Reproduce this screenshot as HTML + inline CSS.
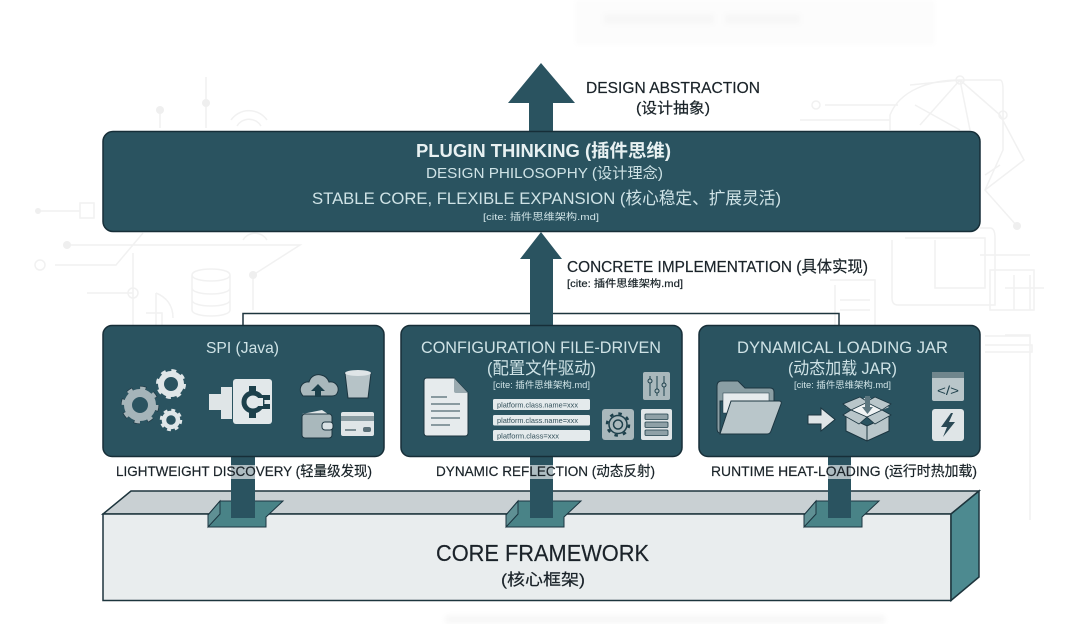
<!DOCTYPE html>
<html><head><meta charset="utf-8"><style>
html,body{margin:0;padding:0;background:#fff;width:1080px;height:624px;overflow:hidden}
svg{display:block}
text{font-family:"Liberation Sans","Noto Sans CJK SC",sans-serif;text-anchor:start}
.w{fill:#e8f1f2}.l{fill:#cfe3e6}.d{fill:#1a2429;stroke:#1a2429;stroke-width:.2}
.ic{fill:#d9e1e4;stroke:#1b3540;stroke-width:1}
.g{fill:#a9b8bc;stroke:#1b3540;stroke-width:1}
</style></head><body>
<svg width="1080" height="624" viewBox="0 0 1080 624" xmlns="http://www.w3.org/2000/svg">
<defs><filter id="b"><feGaussianBlur stdDeviation="2.5"/></filter><filter id="s"><feGaussianBlur stdDeviation="0.35"/></filter></defs>
<rect width="1080" height="624" fill="#fff"/>
<g filter="url(#b)">
<rect x="575" y="0" width="360" height="45" fill="#fcfcfc"/>
<rect x="604" y="14" width="110" height="10" fill="#f7f7f7"/><rect x="725" y="14" width="75" height="10" fill="#f7f7f7"/>
<rect x="445" y="615" width="440" height="9" fill="#f8f8f8"/>
</g>
<g fill="none" stroke="#f1f1f1" stroke-width="1.500">
<path d="M206 77V128M160 108V128M38 211H80M55 265H116L143 233M67 245H300L253 275V310M133 253V325M87 293H133"/>
<path d="M231 120a22 22 0 0 1 36 0M237 126a14 14 0 0 1 24 0M243 240a14 14 0 0 1 24 0"/>
<rect x="80" y="203" width="14" height="15"/><circle cx="40" cy="265" r="5"/><circle cx="133" cy="293" r="5"/>
<path d="M192 275c0-8 38-8 38 0v35c0 8-38 8-38 0zM192 275c0 8 38 8 38 0M192 288c0 8 38 8 38 0M192 300c0 8 38 8 38 0"/>
<path d="M156 293V325M146 313h16v12M156 293c10 4 17 12 17 25"/>
<path d="M825 105H898M800 120H890M890 130V115C900 90 930 80 960 80L1000 115M960 80L920 125M960 80L970 130M1000 115L1024 160L985 190M960 80H1000Q1003 80 1003 90V150L985 190L1017 226M910 85L960 80M915 105L960 130M985 175L1000 165"/>
<circle cx="816" cy="105" r="4"/><circle cx="960" cy="80" r="4"/><circle cx="1003" cy="115" r="4"/>
<path d="M980 228H990Q995 228 995 238V305H898Q892 305 892 298V240M905 238H985V288H935V240M980 255H1030M990 270H1034V310H990zM1014 275V310M1030 275V310M1005 288H1044"/>
<path d="M830 280H875V325M835 285V325M840 300H870M840 310H870"/>
<path d="M1005 335H1030V520M985 336H1030M985 345H1032V352H985"/>
</g>
<g fill="#efefef"><circle cx="38" cy="211" r="3"/><circle cx="67" cy="245" r="4"/><circle cx="160" cy="110" r="4"/><circle cx="206" cy="103" r="4"/><circle cx="253" cy="275" r="4"/><circle cx="1017" cy="226" r="4"/></g>

<g filter="url(#s)">
<!-- beam -->
<polygon points="131,491 979,491 951,514 103,514" fill="#c9d0d3" stroke="#1f343c" stroke-width="1.500"/>
<polygon points="103,514 951,514 951,600.500 103,600.500" fill="#e9edee" stroke="#1f343c" stroke-width="1.500"/>
<polygon points="951,514 979,491 979,577 951,600.500" fill="#4e8a90" stroke="#1f343c" stroke-width="1.500"/>
<!-- sockets -->
<g stroke="#1b3540" stroke-width="1">
<polygon points="220,501 283,501 266,517 266,527 208,527 208,515" fill="#4a8387"/><polygon points="208,515 220,501 220,514 208,527" fill="#5f9094"/>
<polygon points="518,501 581,501 564,517 564,527 506,527 506,515" fill="#4a8387"/><polygon points="506,515 518,501 518,514 506,527" fill="#5f9094"/>
<polygon points="816,501 879,501 862,517 862,527 804,527 804,515" fill="#4a8387"/><polygon points="804,515 816,501 816,514 804,527" fill="#5f9094"/>
</g>
<!-- connectors -->
<g fill="#2a5260">
<rect x="231" y="456" width="24" height="62"/><rect x="530" y="456" width="23" height="62"/><rect x="828" y="456" width="23" height="62"/>
</g>
<g fill="#fff" opacity=".62"><rect x="231" y="465" width="24" height="14"/><rect x="530" y="465" width="23" height="14"/><rect x="828" y="465" width="23" height="14"/></g>

<!-- bracket -->
<path d="M243 325V313.500H839V325" fill="none" stroke="#1f343c" stroke-width="1.500"/>
<!-- arrows -->
<polygon points="541,63 575,103 553,103 553,132 529,132 529,103 508,103" fill="#2a5260"/>
<polygon points="541,232 562,259 553,259 553,326 530,326 530,259 520,259" fill="#2a5260"/>

<!-- boxes -->
<rect x="103" y="131.500" width="877" height="100" rx="10" fill="#2b5361" stroke="#182f38" stroke-width="1.500"/>
<rect x="103" y="325.500" width="281" height="131" rx="9" fill="#2b5361" stroke="#182f38" stroke-width="1.500"/>
<rect x="401" y="325.500" width="281" height="131" rx="9" fill="#2b5361" stroke="#182f38" stroke-width="1.500"/>
<rect x="699" y="325.500" width="281" height="131" rx="9" fill="#2b5361" stroke="#182f38" stroke-width="1.500"/>

<!-- top text -->
<text x="586" y="93" font-size="16" class="d" textLength="174" lengthAdjust="spacingAndGlyphs">DESIGN ABSTRACTION</text>
<text x="636" y="113" font-size="15" class="d" textLength="74" lengthAdjust="spacingAndGlyphs">(设计抽象)</text>
<text x="416" y="157" font-size="18" font-weight="bold" class="w" textLength="255" lengthAdjust="spacingAndGlyphs">PLUGIN THINKING  (插件思维)</text>
<text x="426" y="178" font-size="15" class="l" textLength="237" lengthAdjust="spacingAndGlyphs">DESIGN PHILOSOPHY (设计理念)</text>
<text x="312" y="204" font-size="17" class="l" textLength="469" lengthAdjust="spacingAndGlyphs">STABLE CORE, FLEXIBLE EXPANSION  (核心稳定、扩展灵活)</text>
<text x="483" y="220" font-size="9.500" class="l" textLength="116" lengthAdjust="spacingAndGlyphs">[cite: 插件思维架构.md]</text>
<text x="567" y="272" font-size="16" class="d" textLength="301" lengthAdjust="spacingAndGlyphs">CONCRETE IMPLEMENTATION  (具体实现)</text>
<text x="567" y="287" font-size="10" class="d" textLength="116" lengthAdjust="spacingAndGlyphs">[cite: 插件思维架构.md]</text>

<!-- box titles -->
<text x="206" y="353" font-size="16" class="l" textLength="73" lengthAdjust="spacingAndGlyphs">SPI (Java)</text>
<text x="421" y="353" font-size="17" class="l" textLength="240" lengthAdjust="spacingAndGlyphs">CONFIGURATION FILE-DRIVEN</text>
<text x="487" y="374" font-size="17" class="l" textLength="109" lengthAdjust="spacingAndGlyphs">(配置文件驱动)</text>
<text x="493" y="388" font-size="9" class="l" textLength="97" lengthAdjust="spacingAndGlyphs">[cite: 插件思维架构.md]</text>
<text x="737" y="353" font-size="17" class="l" textLength="211" lengthAdjust="spacingAndGlyphs">DYNAMICAL LOADING JAR</text>
<text x="788" y="374" font-size="17" class="l" textLength="109" lengthAdjust="spacingAndGlyphs">(动态加载 JAR)</text>
<text x="794" y="388" font-size="9" class="l" textLength="97" lengthAdjust="spacingAndGlyphs">[cite: 插件思维架构.md]</text>

<!-- labels -->
<text x="116" y="476" font-size="14" class="d" textLength="256" lengthAdjust="spacingAndGlyphs">LIGHTWEIGHT DISCOVERY  (轻量级发现)</text>
<text x="436" y="476" font-size="14" class="d" textLength="219" lengthAdjust="spacingAndGlyphs">DYNAMIC REFLECTION  (动态反射)</text>
<text x="711" y="476" font-size="14" class="d" textLength="266" lengthAdjust="spacingAndGlyphs">RUNTIME HEAT-LOADING  (运行时热加载)</text>
<text x="436" y="561" font-size="23" class="d" textLength="213" lengthAdjust="spacingAndGlyphs">CORE FRAMEWORK</text>
<text x="501" y="585" font-size="16" class="d" textLength="84" lengthAdjust="spacingAndGlyphs">(核心框架)</text>

<!-- SPI icons: gears -->
<g fill="none">
<circle cx="140" cy="405" r="15.500" stroke="#1b3540" stroke-width="7.500" stroke-dasharray="5.500 6.660"/>
<circle cx="140" cy="405" r="12" stroke="#a5b4b9" stroke-width="8"/>
<circle cx="140" cy="405" r="15.500" stroke="#a5b4b9" stroke-width="6" stroke-dasharray="5 7.170"/>
<circle cx="171" cy="384" r="12.500" stroke="#dfe6e8" stroke-width="5" stroke-dasharray="4.500 5.310"/>
<circle cx="171" cy="384" r="10" stroke="#dfe6e8" stroke-width="6"/>
<circle cx="171" cy="420" r="9" stroke="#dfe6e8" stroke-width="4.500" stroke-dasharray="3.500 3.570"/>
<circle cx="171" cy="420" r="7" stroke="#dfe6e8" stroke-width="4.500"/>
</g>
<!-- plug -->
<path d="M209 394H221V387H232V419H221V410H209Z" fill="#dfe5e7"/>
<rect x="233" y="379" width="39" height="45" rx="3" fill="#e2e8ea"/>
<circle cx="253" cy="402" r="9" fill="none" stroke="#1f3f4b" stroke-width="5"/>
<path d="M249 386h7v6h-7zM249 412h7v6h-7zM258 395h12v5h-12zM258 404h12v5h-12z" fill="#1f3f4b"/>
<rect x="258" y="398" width="5" height="8" fill="#e2e8ea"/>
<!-- cloud -->
<path d="M303 396c-6-7-1-15 6-14 2-7 8-8 12-7 5 1 7 4 8 7 6-1 10 4 9 9-1 4-3 5-6 5Z" fill="#a9b8bc" stroke="#1b3540"/>
<path d="M318 384l7 7h-4v6h-6v-6h-4z" fill="#1f3f4b"/>
<path d="M345 373h26l-3 25h-20z" fill="#b6c3c7" stroke="#1b3540"/><ellipse cx="358" cy="373" rx="13" ry="3" fill="#dfe5e7"/>
<path d="M302 414l20-4 6 4v6" fill="#dfe5e7"/>
<rect x="302" y="414" width="30" height="24" rx="3" fill="#a9b8bc" stroke="#1b3540"/>
<rect x="322" y="422" width="11" height="8" rx="3" fill="#d9e1e4" stroke="#1b3540"/>
<rect x="341" y="412" width="33" height="24" rx="2" fill="#dfe5e7"/>
<rect x="341" y="416" width="33" height="5" fill="#8a9ca2"/>
<path d="M345 430h11" stroke="#5a7078" stroke-width="1.500"/><rect x="363" y="427" width="8" height="5" rx="2" fill="#5a7078"/>

<!-- config icons -->
<path d="M427 378H454L468 393V433Q468 436 465 436H427Q424 436 424 433V381Q424 378 427 378Z" fill="#e6ebed" stroke="#1b3540"/>
<path d="M454 378L468 393H456Q454 393 454 391Z" fill="#9aaab0"/>
<path d="M431 397H447M431 404H460M431 411H460M431 418H460M431 425H450" stroke="#6a7f87" stroke-width="1.500"/>
<g>
<rect x="493" y="399" width="97" height="11" rx="1.500" fill="#e4eaec"/>
<rect x="493" y="415" width="97" height="10.500" rx="1.500" fill="#e4eaec"/>
<rect x="493" y="430" width="97" height="11" rx="1.500" fill="#e4eaec"/>
<g font-size="7.500" fill="#33505a">
<text x="497" y="407.500" textLength="81" lengthAdjust="spacingAndGlyphs">platform.class.name=xxx</text>
<text x="497" y="423" textLength="81" lengthAdjust="spacingAndGlyphs">platform.class.name=xxx</text>
<text x="497" y="438.500" textLength="62" lengthAdjust="spacingAndGlyphs">platform.class=xxx</text>
</g></g>
<rect x="643" y="372" width="27" height="28" rx="2" fill="#a9b8bc"/>
<path d="M650 376V396M657 376V396M664 376V396" stroke="#1f3f4b" stroke-width="1"/>
<circle cx="650" cy="381" r="2" fill="#a9b8bc" stroke="#1f3f4b"/><circle cx="657" cy="391" r="2" fill="#a9b8bc" stroke="#1f3f4b"/><circle cx="664" cy="385" r="2" fill="#a9b8bc" stroke="#1f3f4b"/>
<rect x="602" y="409" width="32" height="31" rx="3" fill="#a9b8bc"/>
<circle cx="618" cy="424.500" r="9" fill="none" stroke="#1f3f4b" stroke-width="1.500"/>
<circle cx="618" cy="424.500" r="11" fill="none" stroke="#1f3f4b" stroke-width="2.500" stroke-dasharray="3.500 5.140"/>
<circle cx="618" cy="424.500" r="4.500" fill="none" stroke="#1f3f4b" stroke-width="1.500"/>
<rect x="641" y="409" width="31" height="31" rx="2" fill="#dfe5e7"/>
<g fill="#8fa1a7" stroke="#1f3f4b" stroke-width=".8"><rect x="645" y="414" width="23" height="5.500" rx="1"/><rect x="645" y="422" width="23" height="5.500" rx="1"/><rect x="645" y="430" width="23" height="5.500" rx="1"/></g>

<!-- jar icons -->
<path d="M717 386Q717 381 722 381H738L745 388H770Q774 388 774 392V401H720V433Q717 433 717 428Z" fill="#8a9ea4" stroke="#1b3540"/>
<rect x="723" y="393" width="46" height="20" fill="#e6ebed" stroke="#1b3540" stroke-width=".5"/>
<path d="M731 401H779Q782 401 781 404L771 431Q770 434 767 434H720Z" fill="#b9c6ca" stroke="#1b3540"/>
<path d="M808 415H821V408L835 419.500L821 431V424H808Z" fill="#dfe5e7" stroke="#1b3540"/>
<path d="M846 416L867 426L889 416V431L867 441L846 431Z" fill="#b9c6ca" stroke="#1b3540"/>
<path d="M867 426V441" stroke="#1b3540"/>
<path d="M846 407L867 397L889 407L867 417Z" fill="#f0f3f4"/>
<path d="M843 404L860 397L868 402L851 410ZM891 404L875 397L866 402L882 410ZM843 415L851 410L867 417L859 424ZM891 415L882 410L867 417L875 424Z" fill="#b9c6ca" stroke="#1b3540" stroke-width=".8"/>
<path d="M865 396H870V407H873L867.500 414L862 407H865Z" fill="#5d7780"/>
<rect x="932" y="372" width="32" height="29" rx="2" fill="#b9c6ca"/>
<rect x="932" y="372" width="32" height="6" fill="#6f868d"/>
<text x="937" y="395" font-size="13" fill="#1f3f4b" textLength="22" lengthAdjust="spacingAndGlyphs">&lt;/&gt;</text>
<rect x="932" y="409" width="32" height="32" rx="3" fill="#dfe5e7"/>
<path d="M951 413L941 427H947L943 437L955 422H949L953 413Z" fill="#2b4a55"/>
</g>
</svg>
</body></html>
